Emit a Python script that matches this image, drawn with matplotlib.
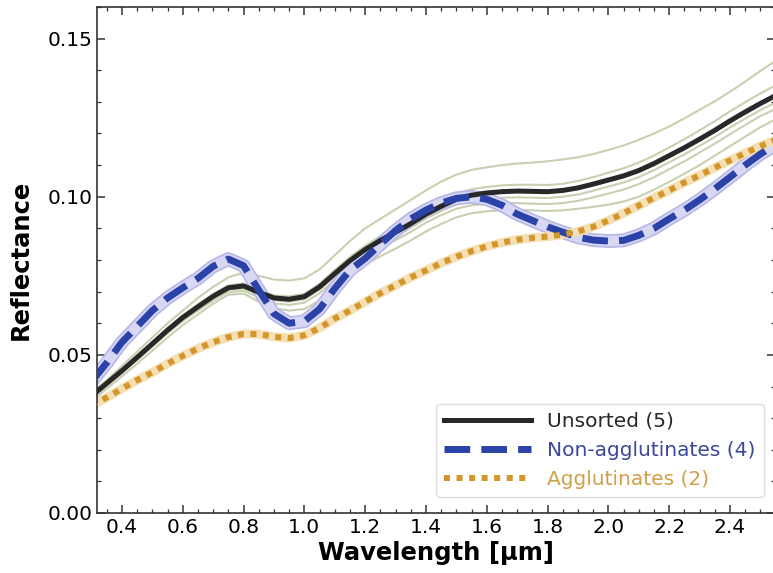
import numpy as np
import matplotlib
matplotlib.use('Agg')
import matplotlib.pyplot as plt
from matplotlib.ticker import MultipleLocator

# wavelength grid (micron)
wl = np.round(np.arange(0.30, 2.551, 0.05), 2)

# mean spectra of each group
unsorted_mean = [0.0370, 0.0410, 0.0450, 0.0492, 0.0535, 0.0578, 0.0618, 0.0652, 0.0685, 0.0712,
                 0.0718, 0.0698, 0.0680, 0.0676, 0.0684, 0.0715, 0.0757, 0.0798, 0.0833, 0.0862,
                 0.0888, 0.0915, 0.0945, 0.0970, 0.0992, 0.1005, 0.1012, 0.1016, 0.1018, 0.1017,
                 0.1016, 0.1020, 0.1028, 0.1040, 0.1053, 0.1066, 0.1083, 0.1105, 0.1130, 0.1155,
                 0.1182, 0.1210, 0.1240, 0.1268, 0.1295, 0.1320]
nonagg_mean = [0.0415, 0.0475, 0.0540, 0.0590, 0.0640, 0.0680, 0.0712, 0.0742, 0.0780, 0.0803,
               0.0782, 0.0705, 0.0630, 0.0600, 0.0606, 0.0645, 0.0710, 0.0768, 0.0805, 0.0850,
               0.0893, 0.0930, 0.0958, 0.0980, 0.0995, 0.1000, 0.0992, 0.0973, 0.0945, 0.0925,
               0.0905, 0.0888, 0.0872, 0.0863, 0.0860, 0.0862, 0.0878, 0.0900, 0.0930, 0.0958,
               0.0990, 0.1025, 0.1062, 0.1100, 0.1135, 0.1165]
agg_mean = [0.0340, 0.0365, 0.0393, 0.0420, 0.0445, 0.0472, 0.0497, 0.0520, 0.0540, 0.0556,
            0.0566, 0.0566, 0.0557, 0.0553, 0.0562, 0.0585, 0.0615, 0.0640, 0.0668, 0.0695,
            0.0720, 0.0745, 0.0767, 0.0790, 0.0810, 0.0828, 0.0843, 0.0855, 0.0864, 0.0870,
            0.0874, 0.0880, 0.0890, 0.0905, 0.0925, 0.0948, 0.0972, 0.0997, 0.1020, 0.1045,
            0.1068, 0.1092, 0.1115, 0.1138, 0.1160, 0.1180]

# individual unsorted samples
unsorted_1 = [0.0380, 0.0420, 0.0465, 0.0510, 0.0555, 0.0600, 0.0640, 0.0680, 0.0715, 0.0745,
              0.0760, 0.0750, 0.0738, 0.0735, 0.0742, 0.0770, 0.0815, 0.0860, 0.0900, 0.0930,
              0.0960, 0.0990, 0.1020, 0.1048, 0.1070, 0.1085, 0.1093, 0.1100, 0.1105, 0.1108,
              0.1112, 0.1118, 0.1125, 0.1135, 0.1148, 0.1162, 0.1180, 0.1200, 0.1222, 0.1248,
              0.1275, 0.1302, 0.1332, 0.1364, 0.1398, 0.1430]
unsorted_2 = [0.0372, 0.0413, 0.0454, 0.0497, 0.0541, 0.0585, 0.0625, 0.0660, 0.0693, 0.0720,
              0.0726, 0.0706, 0.0688, 0.0685, 0.0693, 0.0725, 0.0768, 0.0810, 0.0845, 0.0875,
              0.0902, 0.0930, 0.0961, 0.0987, 0.1010, 0.1024, 0.1031, 0.1036, 0.1038, 0.1038,
              0.1037, 0.1041, 0.1050, 0.1062, 0.1076, 0.1090, 0.1108, 0.1130, 0.1156, 0.1182,
              0.1210, 0.1239, 0.1270, 0.1299, 0.1327, 0.1352]
unsorted_3 = [0.0366, 0.0406, 0.0446, 0.0488, 0.0531, 0.0574, 0.0613, 0.0647, 0.0680, 0.0706,
              0.0711, 0.0691, 0.0673, 0.0668, 0.0676, 0.0706, 0.0748, 0.0788, 0.0822, 0.0850,
              0.0875, 0.0902, 0.0931, 0.0955, 0.0976, 0.0988, 0.0994, 0.0997, 0.0998, 0.0997,
              0.0996, 0.1000, 0.1007, 0.1019, 0.1032, 0.1045, 0.1062, 0.1084, 0.1109, 0.1134,
              0.1161, 0.1189, 0.1219, 0.1247, 0.1274, 0.1298]
unsorted_4 = [0.0362, 0.0402, 0.0442, 0.0484, 0.0526, 0.0568, 0.0607, 0.0640, 0.0672, 0.0698,
              0.0703, 0.0682, 0.0663, 0.0658, 0.0665, 0.0695, 0.0736, 0.0776, 0.0810, 0.0838,
              0.0863, 0.0889, 0.0918, 0.0942, 0.0962, 0.0973, 0.0978, 0.0980, 0.0980, 0.0978,
              0.0977, 0.0980, 0.0987, 0.0998, 0.1010, 0.1023, 0.1040, 0.1062, 0.1087, 0.1112,
              0.1140, 0.1168, 0.1198, 0.1227, 0.1255, 0.1278]
unsorted_5 = [0.0355, 0.0393, 0.0432, 0.0472, 0.0513, 0.0555, 0.0594, 0.0628, 0.0662, 0.0690,
              0.0694, 0.0668, 0.0648, 0.0640, 0.0645, 0.0672, 0.0712, 0.0752, 0.0785, 0.0812,
              0.0836, 0.0862, 0.0890, 0.0914, 0.0935, 0.0948, 0.0954, 0.0957, 0.0958, 0.0957,
              0.0955, 0.0957, 0.0962, 0.0968, 0.0975, 0.0985, 0.1000, 0.1022, 0.1047, 0.1073,
              0.1100, 0.1130, 0.1160, 0.1190, 0.1220, 0.1245]
unsorted_all = [unsorted_1, unsorted_2, unsorted_3, unsorted_4, unsorted_5]

labels = ['Unsorted (5)', 'Non-agglutinates (4)', 'Agglutinates (2)']

c_black = '#282828'
c_blue = '#2b43a8'
c_orange = '#d4962a'

fig = plt.figure(figsize=(7.73, 5.73), dpi=100)
ax = fig.add_axes([97/773, 1-513/573, 678/773, 506/573])

# individual unsorted spectra
for s in unsorted_all:
    ax.plot(wl, s, color='#c9d0b2', lw=1.5, solid_joinstyle='round', zorder=1)

# halos behind the sorted means
ax.plot(wl, nonagg_mean, color='#b8b8e6', lw=10, solid_joinstyle='round',
        solid_capstyle='butt', zorder=2)
ax.plot(wl, nonagg_mean, color='#d8d8f4', lw=7.5, solid_joinstyle='round',
        solid_capstyle='butt', zorder=2)
ax.plot(wl, agg_mean, color='#f4e0b4', lw=6.5, solid_joinstyle='round',
        solid_capstyle='butt', zorder=2)

l1, = ax.plot(wl, unsorted_mean, color=c_black, lw=3.6, solid_joinstyle='round',
              zorder=4, label=labels[0])
l2, = ax.plot(wl, nonagg_mean, color=c_blue, lw=5, ls='--', dash_capstyle='butt',
              dash_joinstyle='round', zorder=5, label=labels[1])
l3, = ax.plot(wl, agg_mean, color=c_orange, lw=4.3, ls=(0, (1, 1.1)), dash_capstyle='butt',
              dash_joinstyle='round', zorder=6, label=labels[2])

ax.set_xlim(0.318, 2.548)
ax.set_ylim(0, 0.16)
ax.xaxis.set_major_locator(MultipleLocator(0.2))
ax.xaxis.set_minor_locator(MultipleLocator(0.05))
ax.yaxis.set_major_locator(MultipleLocator(0.05))
ax.yaxis.set_minor_locator(MultipleLocator(0.01))
ax.tick_params(which='both', direction='in', top=True, right=True, labelsize=14.5,
               color='#333333')
ax.tick_params(which='major', length=5.5, width=1.1)
ax.tick_params(which='minor', length=3, width=0.9)
for sp in ax.spines.values():
    sp.set_linewidth(1.2)
    sp.set_color('#333333')

ax.set_xlabel('Wavelength [μm]', fontsize=17.5, fontweight='bold', labelpad=3)
ax.set_ylabel('Reflectance', fontsize=17.5, fontweight='bold', labelpad=10)

leg = ax.legend(handles=[l1, l2, l3], loc='lower right', fontsize=14.5, handlelength=4.3,
                bbox_to_anchor=(0.992, 0.02), borderaxespad=0.3, framealpha=1)
leg.get_frame().set_edgecolor('#dddddd')
for txt, col in zip(leg.get_texts(), [c_black, '#3a479c', '#cfa048']):
    txt.set_color(col)

fig.savefig('out.png', dpi=100)
